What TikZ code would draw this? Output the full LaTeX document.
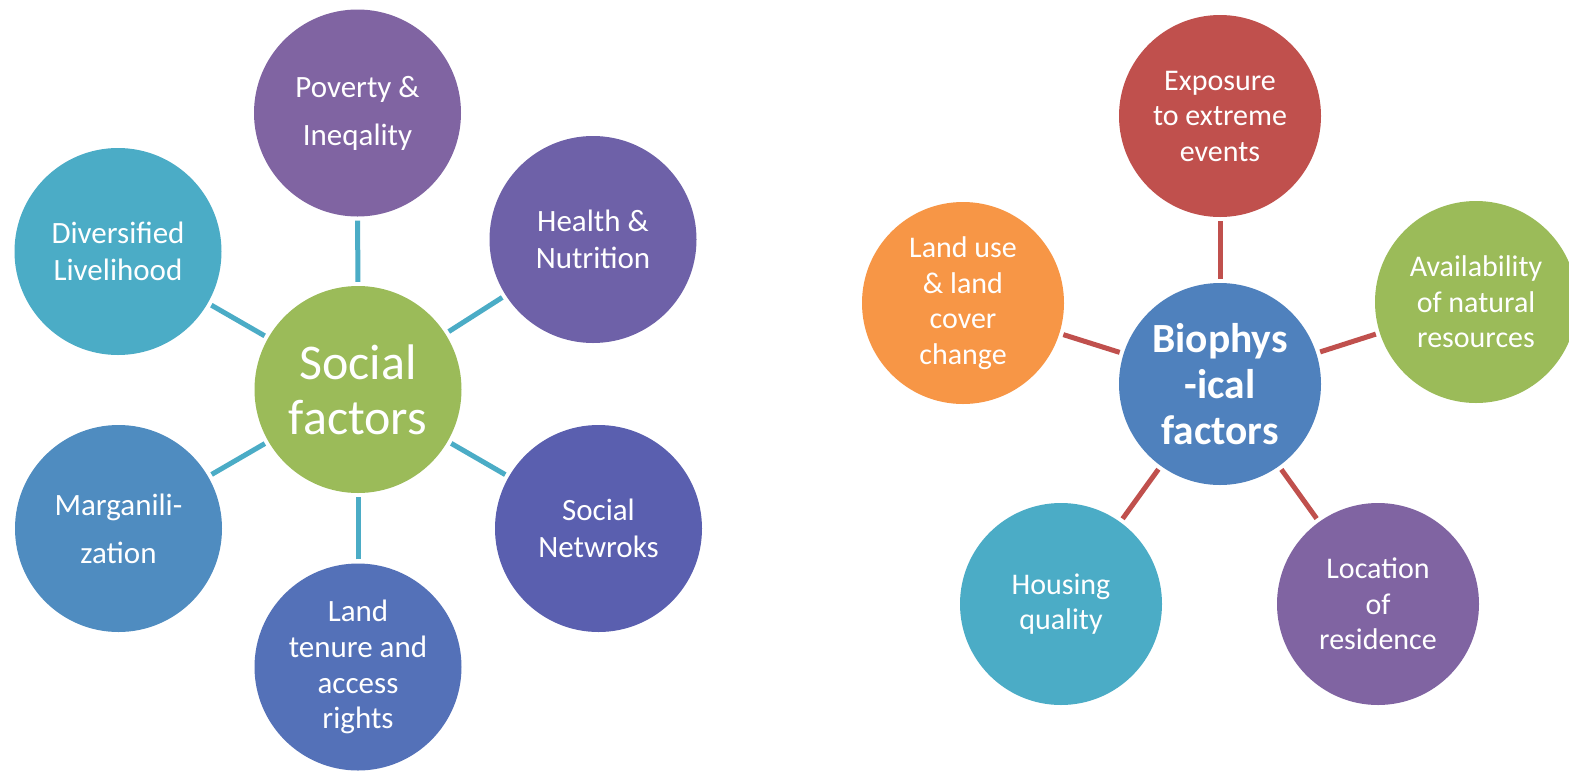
\documentclass[tikz,border=0pt]{standalone}
\usepackage{fontspec}
\setmainfont{Carlito}
\begin{document}
\definecolor{cGreen}{HTML}{9BBB59}
\definecolor{cPurple}{HTML}{8064A2}
\definecolor{cViolet}{HTML}{6E61A8}
\definecolor{cIndigo}{HTML}{5A5FAF}
\definecolor{cBlue}{HTML}{5471B8}
\definecolor{cSteel}{HTML}{4F8CC0}
\definecolor{cAqua}{HTML}{4BACC6}
\definecolor{cRed}{HTML}{C0504D}
\definecolor{cOrange}{HTML}{F79646}
\definecolor{cCore}{HTML}{4F81BD}
\begin{tikzpicture}[x=1pt,y=-1pt,
  bubble/.style={circle,inner sep=0pt,minimum size=207pt,text=white,align=center,
    font=\fontsize{31}{37}\selectfont},
  rbubble/.style={bubble,minimum size=202pt,font=\fontsize{30}{35.5}\selectfont},
  wide/.style={font=\fontsize{31}{48}\selectfont},
  lconn/.style={draw=cAqua,line width=5pt,shorten <=4pt,shorten >=4pt},
  rconn/.style={draw=cRed,line width=5pt,shorten <=4pt,shorten >=4pt}]
\useasboundingbox[fill=white] (0,0) rectangle (1569,772);

% social factors cluster
\node[bubble,fill=cGreen,font=\fontsize{50}{55}\selectfont] (soc) at (358,389.5) {Social\\factors};
\node[bubble,wide,fill=cPurple] (pov) at (357.5,113) {Poverty \&\\Ineqality};
\node[bubble,fill=cViolet] (hea) at (593,239.5) {Health \&\\Nutrition};
\node[bubble,fill=cIndigo] (net) at (598.5,528.5) {Social\\Netwroks};
\node[bubble,fill=cBlue,font=\fontsize{31}{35.8}\selectfont] (lan) at (358,667) {Land\\tenure and\\access\\rights};
\node[bubble,wide,fill=cSteel] (mar) at (118.5,528.5) {Marganili-\\zation};
\node[bubble,fill=cAqua] (div) at (118,251.5) {Diversified\\Livelihood};
\foreach \n in {pov,hea,net,lan,mar,div}
  \draw[lconn] (\n) -- (soc);

% biophysical factors cluster
\node[rbubble,fill=cCore,font=\fontsize{41.5}{46}\selectfont\bfseries] (bio) at (1220,384) {Biophys\\-ical\\factors};
\node[rbubble,fill=cRed] (exp) at (1220,116) {Exposure\\to extreme\\events};
\node[rbubble,fill=cGreen] (avl) at (1476,302) {Availability\\of natural\\resources};
\node[rbubble,fill=cPurple] (loc) at (1378,604) {Location\\of\\residence};
\node[rbubble,fill=cAqua] (hou) at (1061,604) {Housing\\quality};
\node[rbubble,fill=cOrange] (luse) at (963,303) {Land use\\\& land\\cover\\change};
\foreach \n in {exp,avl,loc,hou,luse}
  \draw[rconn] (\n) -- (bio);
\end{tikzpicture}
\end{document}
